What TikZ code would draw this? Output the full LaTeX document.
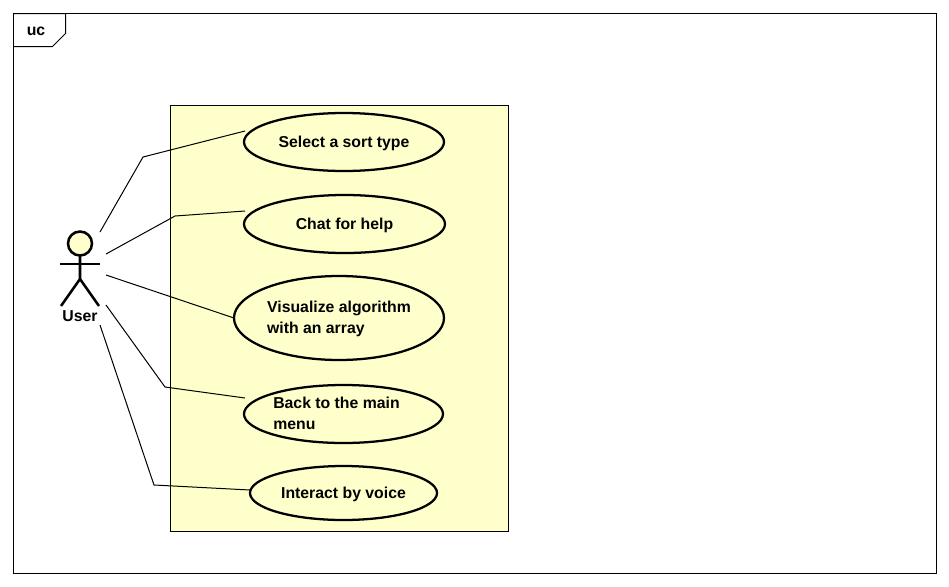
\documentclass[tikz,border=0pt]{standalone}
\usepackage{fontspec}
\setmainfont{Liberation Sans}
\usetikzlibrary{shapes.geometric}
\definecolor{ucfill}{HTML}{FFFFCC}
\newcommand\uclines[1]{\raisebox{-3.75pt}[0pt][0pt]{\begin{tabular}{@{}l@{}}#1\end{tabular}}}
\tikzset{
  x=0.75pt,y=-0.75pt,
  usecase/.style={draw=black,fill=ucfill,ellipse,line width=1.7pt,inner sep=0pt,outer sep=0pt,font=\fontsize{11.85pt}{15.4pt}\selectfont\bfseries},
  assoc/.style={draw=black,line width=0.75pt},
  thin frame/.style={draw=black,line width=0.75pt},
  figure/.style={draw=black,line width=1.9pt},
  lbl/.style={font=\fontsize{11.85pt}{15.4pt}\selectfont\bfseries,inner sep=0pt}
}
\begin{document}
\begin{tikzpicture}
\useasboundingbox (0,0) rectangle (949,586);
\fill[white] (0,0) rectangle (949,586);
% frame
\draw[thin frame] (13.5,13.5) rectangle (936.5,573.5);
\draw[thin frame] (13.5,13.5) -- (65.5,13.5) -- (65.5,33.5) -- (52.5,46.5) -- (13.5,46.5);
\node[lbl] (frametag) at (36,31.5) {uc};
% boundary
\node[thin frame,fill=ucfill,rectangle,inner sep=0pt,outer sep=0pt,minimum width=253.5pt,minimum height=319.5pt] (boundary) at (339.5,318.5) {};
% use cases
\node[usecase,minimum width=150pt,minimum height=43.5pt] (uc1) at (344,142) {\uclines{Select a sort type}};
\node[usecase,minimum width=150.75pt,minimum height=43.5pt] (uc2) at (344.5,224) {\uclines{Chat for help}};
\node[usecase,minimum width=157.5pt,minimum height=63pt] (uc3) at (339,318) {\uclines{Visualize algorithm\\with an array}};
\node[usecase,minimum width=149.25pt,minimum height=43.5pt] (uc4) at (343.5,414) {\uclines{Back to the main\\menu}\hspace*{10.5pt}};
\node[usecase,minimum width=140.25pt,minimum height=40.5pt] (uc5) at (343.5,493) {\uclines{Interact by voice}};
% actor
\node[circle,figure,fill=ucfill,minimum size=18pt,inner sep=0pt,outer sep=0pt] (head) at (80,243.5) {};
\coordinate (hip) at (80,279);
\coordinate (armL) at (60,264);
\coordinate (armR) at (100,264);
\coordinate (footL) at (61,306);
\coordinate (footR) at (99,306);
\draw[figure] (head.south) -- (hip) -- (footL);
\draw[figure] (hip) -- (footR);
\draw[figure] (armL) -- (armR);
\node[lbl] (user) at (80,316.5) {User};
% connector ends
\coordinate (a1) at (100,232);
\coordinate (a2) at (106,254);
\coordinate (a3) at (106,275);
\coordinate (a4) at (106,305);
\coordinate (a5) at (100,325);
\coordinate (b1) at (245,131);
\coordinate (b2) at (245,211);
\coordinate (b4) at (245,398);
\coordinate (b5) at (250,490);
\coordinate (w1) at (143,157);
\coordinate (w2) at (175,216);
\coordinate (w4) at (165,387);
\coordinate (w5) at (154,485);
\draw[assoc] (a1) -- (w1) -- (b1);
\draw[assoc] (a2) -- (w2) -- (b2);
\draw[assoc] (a3) -- (uc3.west);
\draw[assoc] (a4) -- (w4) -- (b4);
\draw[assoc] (a5) -- (w5) -- (b5);
\end{tikzpicture}
\end{document}
